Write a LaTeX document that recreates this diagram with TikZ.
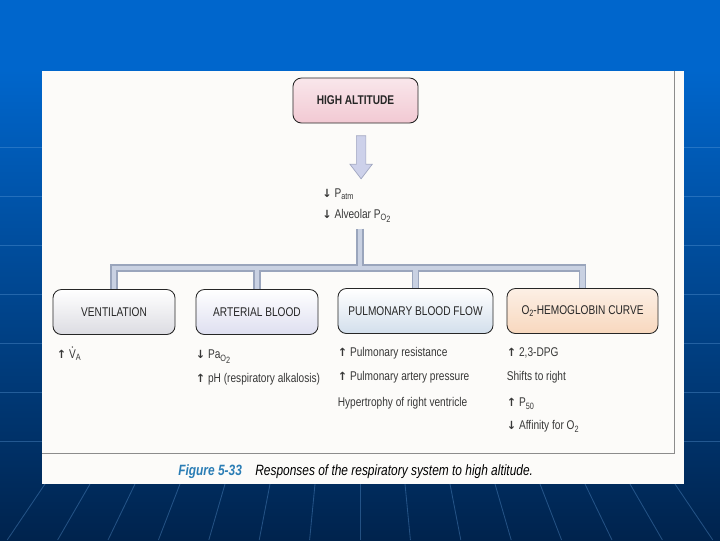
\documentclass[tikz,border=0pt]{standalone}
\usepackage{fontspec}
\setmainfont{Liberation Sans}
\newfontfamily\condfont[FakeStretch=0.8]{Liberation Sans}
\newfontfamily\arrowfont{DejaVu Sans}
\usetikzlibrary{positioning,shapes.arrows}

\definecolor{slideblue}{HTML}{0066CC}
\definecolor{slidenavy}{HTML}{00234D}
\definecolor{panelwhite}{HTML}{FCFBF9}
\definecolor{barline}{HTML}{9AA5BC}
\definecolor{barfill}{HTML}{C9D1E2}
\definecolor{arrowline}{HTML}{A0A6C0}
\definecolor{arrowfill}{HTML}{CDD1EA}
\definecolor{altpink}{HTML}{F2C9D3}
\definecolor{ventgray}{HTML}{DCDCE2}
\definecolor{artlilac}{HTML}{DEDFF0}
\definecolor{pulmblue}{HTML}{D3DFEC}
\definecolor{oxypeach}{HTML}{F8D8BE}
\definecolor{figteal}{HTML}{2A7DB5}

\newcommand{\up}{{\arrowfont\bfseries\fontsize{8}{9}\selectfont ↑}\hspace{2pt}}
\newcommand{\dn}{{\arrowfont\bfseries\fontsize{8}{9}\selectfont ↓}\hspace{2pt}}
\newcommand{\lowsub}[1]{\raisebox{-0.4ex}{\fontsize{6.5}{7}\selectfont #1}}

\begin{document}
\begin{tikzpicture}[x=0.025cm, y=-0.025cm,
    box/.style = {draw=black!85, line width=0.6pt, rounded corners=6pt,
      minimum height=1.125cm, inner sep=2pt,
      font=\condfont\fontsize{9}{11}\selectfont, text=black!85},
    item/.style = {anchor=base west, inner sep=0pt,
      font=\condfont\fontsize{9}{11}\selectfont, text=black!78},
    barout/.style = {draw=barline, line width=5pt},
    barin/.style = {draw=barfill, line width=3.2pt},
    bigarrow/.style = {single arrow, shape border rotate=270, draw=arrowline,
      fill=arrowfill, line width=0.5pt, inner sep=0.11cm, minimum width=0.55cm,
      minimum height=1.075cm, single arrow head extend=0.16cm,
      single arrow tip angle=75},
    gridline/.style = {draw=slideblue!60!white, opacity=0.35, line width=0.6pt}]
    \useasboundingbox (0,0) rectangle (720,540);

    \fill[slideblue] (0,0) rectangle (720,70);
    \shade[top color=slideblue, bottom color=slidenavy] (0,70) rectangle (720,540);
    \foreach \yy in {147,196,...,441}
      \draw[gridline] (0,\yy) -- (42,\yy) (684,\yy) -- (720,\yy);
    \foreach \xx in {45,90,...,675}
      \draw[gridline] (\xx,484) -- ({\xx+(\xx-360)*0.12},540);

    \fill[panelwhite] (42,71) rectangle (684,484);
    \draw[black!45, line width=0.4pt] (42,453) -- (674,453) -- (674,71);

    \node[box, minimum width=3.125cm, top color=altpink!45, bottom color=altpink,
      font=\condfont\bfseries\fontsize{9}{11}\selectfont] (alt) at (355.5,100.5) {HIGH ALTITUDE};
    \node[bigarrow, below=0.3cm of alt, xshift=0.14cm] (drop) {};

    \node[item] (patm) at (322,197) {\dn P\lowsub{atm}};
    \node[below=0.53cm of patm.base west, item] (alv) {\dn Alveolar P\lowsub{O\lowsub{2}}};

    \node[box, minimum width=3.05cm, top color=white, bottom color=ventgray] (vent) at (114,312) {VENTILATION};
    \node[box, minimum width=3.05cm, top color=white, bottom color=artlilac] (art) at (257,312) {ARTERIAL BLOOD};
    \node[box, minimum width=3.875cm, top color=white, bottom color=pulmblue] (pulm) at (415.5,311) {PULMONARY BLOOD FLOW};
    \node[box, minimum width=3.775cm, top color=oxypeach!40, bottom color=oxypeach] (oxy) at (582.5,311) {O\lowsub{2}-HEMOGLOBIN CURVE};

    \coordinate (hub) at (360,268);
    \foreach \lay in {barout,barin}
      \draw[\lay] ([yshift=-4pt]alv.south -| hub) -- (hub)
        (hub) -| (vent.north) (hub) -| (art.north)
        (hub) -| (pulm.north) (hub) -| (oxy.north);

    \node[below=0.58cm of vent.south west, xshift=0.1cm, item] (vent1) {\up V\lowsub{A}};
    \fill[black!78] ([xshift=11.2pt, yshift=7.9pt]vent1.base west) circle (0.55pt);

    \node[below=0.6cm of art.south west, item] (art1) {\dn Pa\lowsub{O\lowsub{2}}};
    \node[below=0.58cm of art1.base west, item] (art2) {\up pH (respiratory alkalosis)};

    \node[below=0.57cm of pulm.south west, item] (pulm1) {\up Pulmonary resistance};
    \node[below=0.6cm of pulm1.base west, item] (pulm2) {\up Pulmonary artery pressure};
    \node[below=0.64cm of pulm2.base west, item] (pulm3) {Hypertrophy of right ventricle};

    \node[below=0.57cm of oxy.south west, item] (oxy1) {\up 2,3-DPG};
    \node[below=0.6cm of oxy1.base west, item] (oxy2) {Shifts to right};
    \node[below=0.64cm of oxy2.base west, item] (oxy3) {\up P\lowsub{50}};
    \node[below=0.58cm of oxy3.base west, item] (oxy4) {\dn Affinity for O\lowsub{2}};

    \node[anchor=base west, inner sep=0pt, font=\condfont\itshape\fontsize{10.6}{12}\selectfont]
      (caption) at (178,475) {{\color{figteal}\bfseries Figure 5-33}\hspace{0.9em}Responses of the respiratory system to high altitude.};
\end{tikzpicture}
\end{document}
